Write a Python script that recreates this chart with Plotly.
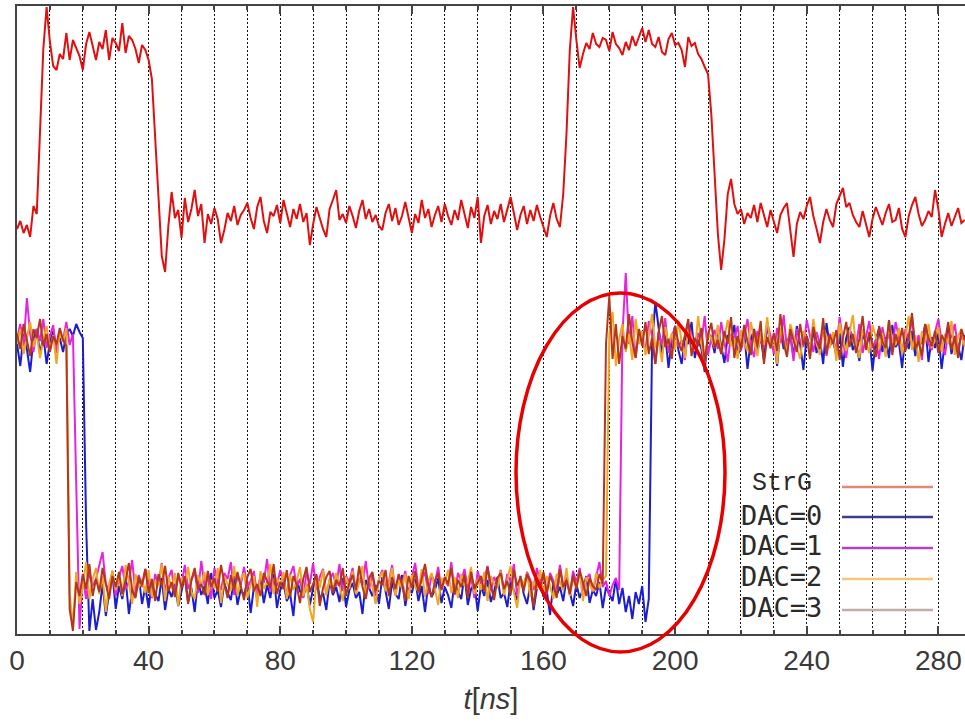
import plotly.graph_objects as go

# time axis in ns (1 ns sampling)
t_ns = list(range(289))

strg = [405, 413, 401, 409, 397, 428, 420,
        500, 585, 627, 592, 568,
        564, 580, 575, 601, 574, 594, 586, 578, 564, 590, 602, 588, 574, 592, 585, 604, 574, 596, 591, 583,
        611, 581, 598, 594, 585, 571, 589, 584, 574, 555,
        495, 430, 378, 362, 408, 442, 416, 424, 396,
        436, 412, 425, 444, 418, 430, 391, 420, 410, 426, 415, 391, 404, 421, 413, 428, 409, 419, 424, 431,
        416, 405, 427, 437, 413, 401, 422, 418, 429, 411, 434, 420, 407, 425, 415, 430, 412, 421, 389, 410,
        427, 416, 405, 397, 425, 434, 444, 414, 420, 411, 428, 418, 406, 423, 434, 415, 425, 412, 419, 408,
        404, 421, 430, 413, 426, 409, 418, 432, 415, 401, 420, 411, 434, 416, 425, 407, 419, 428, 412, 430,
        418, 409, 424, 414, 434, 420, 406, 427, 416, 437, 391, 418, 429, 410, 423, 415, 430, 412, 426, 437,
        421, 404, 419, 428, 410, 424, 413, 429, 417, 407, 397, 418, 431, 415, 407,
        440, 501, 584, 627, 594, 566,
        580, 591, 585, 601, 590, 587, 596, 594, 583, 602, 590, 586, 579, 592, 584, 598, 588, 597, 606, 592,
        604, 590, 587, 597, 582, 579, 595, 601, 589, 591, 584, 567, 597, 588, 591, 580, 575, 567,
        560, 520, 460, 400, 364, 395, 440, 455, 430, 420,
        425, 410, 421, 416, 429, 412, 431, 418, 407, 424, 413, 401, 419, 426, 431, 405, 377, 410, 422, 415,
        428, 437, 418, 405, 391, 412, 425, 414, 407, 430, 438, 446, 427, 431, 419, 412, 407, 423, 410, 397,
        415, 427, 418, 409, 421, 430, 412, 414, 426, 405, 397, 418, 429, 437, 420, 408, 414, 423, 417, 444,
        425, 397, 410, 421, 408, 417, 426, 411, 414]

dac0 = [290, 268, 300, 285, 262, 295, 305, 280, 298, 270, 292, 303, 287, 296, 282, 300, 305, 298, 310, 302, 296,
        110, 3, 35, 4, 22, 50, 18,
        42, 60, 25, 48, 35, 55, 20, 44, 38, 58, 30, 47, 26, 52, 40, 33, 56, 24, 45, 37,
        50, 28, 43, 57, 32, 46, 22, 54, 39, 48, 30, 61, 36, 44, 27, 51, 41, 34, 58, 29,
        45, 38, 53, 21, 47, 42, 56, 31, 49, 36, 60, 26, 44, 52, 33, 40, 18, 55, 43, 37,
        50, 29, 46, 58, 35, 41, 24, 53, 39, 47, 32, 56, 27, 44, 51, 36, 42, 20, 54, 45,
        38, 49, 30, 57, 43, 25, 52, 40, 35, 59, 28, 46, 41, 55, 33, 48, 22, 50, 37, 44,
        56, 31, 47, 39, 26, 53, 42, 35, 60, 29, 45, 50, 23, 48, 38, 54, 32, 43, 57, 36,
        41, 27, 52, 44, 34, 58, 40, 30, 49, 24, 46, 55, 37, 43, 19, 51, 39, 47, 33, 56,
        42, 28, 50, 36, 45, 58, 31, 44, 38, 52, 26, 47, 40, 33, 55, 30, 46, 22, 38, 15, 42, 30, 48, 12, 35,
        290, 332, 305,
        280, 300, 266, 295, 308, 284, 270, 298, 290, 312, 276, 294, 285, 262, 302, 296, 281, 306, 288, 271,
        299, 292, 309, 279, 286, 301, 265, 294, 305, 283, 297, 274, 310, 289, 296, 268, 303, 285, 292, 300,
        277, 308, 290, 264, 298, 286, 304, 281, 295, 270, 311, 288, 293, 279, 301, 267, 296, 307, 284, 291,
        273, 302, 289, 298, 263, 294, 306, 282, 297, 276, 309, 287, 292, 266, 300, 285, 303, 278, 295, 290,
        310, 272, 297, 286, 301, 265, 293, 305, 280, 296, 288, 274, 299]

dac1 = [295, 310, 288, 336, 300, 282, 305, 293, 315, 286, 298, 309, 281, 302, 294, 312, 289, 300,
        150, 5, 58, 35,
        62, 48, 55, 70, 82, 50, 44, 63, 38, 57, 68, 45, 52, 74, 40, 59, 47, 65, 53, 36,
        60, 49, 71, 43, 56, 64, 38, 58, 50, 69, 45, 54, 62, 41, 73, 48, 57, 35, 66, 51,
        44, 61, 55, 72, 39, 58, 49, 67, 46, 53, 63, 37, 60, 51, 75, 42, 56, 48, 64, 53,
        40, 59, 68, 47, 55, 36, 62, 50, 71, 44, 57, 65, 39, 54, 61, 48, 70, 43, 58, 52,
        66, 41, 56, 49, 73, 45, 60, 38, 55, 64, 47, 52, 69, 42, 58, 50, 63, 37, 57, 71,
        46, 54, 62, 40, 59, 51, 67, 44, 56, 48, 72, 39, 61, 53, 65, 45, 58, 36, 63, 50,
        55, 68, 43, 57, 49, 64, 41, 60, 52, 70, 38, 56, 47, 62, 54, 44, 66, 50, 58, 40,
        61, 53, 45, 69, 48, 57, 39, 63, 51, 66, 44, 55, 60, 42, 58, 72, 47, 53, 38, 49, 56, 44,
        300, 361, 290, 318,
        276, 305, 292, 284, 313, 298, 270, 302, 289, 316, 281, 297, 306, 287, 294, 274, 310, 299, 283, 301,
        292, 318, 279, 296, 304, 285, 312, 290, 272, 300, 295, 308, 283, 297, 315, 288, 277, 303, 294, 286,
        311, 298, 280, 306, 291, 319, 284, 299, 273, 305, 293, 287, 314, 296, 282, 302, 290, 308, 278, 300,
        295, 285, 317, 292, 276, 304, 298, 288, 310, 281, 299, 313, 286, 294, 275, 307, 291, 300, 283, 312,
        297, 280, 305, 293, 316, 287, 299, 274, 308, 290, 284, 302, 315, 292, 279, 301, 296, 310, 285, 298,
        291]

dac2 = [290, 305, 280, 298, 312, 287, 300, 276, 295, 308, 284, 299, 270, 303, 292, 306,
        40, 8, 62, 30,
        48, 72, 35, 55, 66, 40, 58, 22, 50, 63, 44, 57, 38, 69, 52, 30, 60, 46, 55, 41,
        64, 37, 53, 48, 70, 33, 58, 45, 61, 28, 56, 50, 67, 42, 35, 59, 48, 62, 39, 54,
        46, 66, 31, 57, 50, 43, 68, 38, 55, 61, 36, 49, 58, 27, 63, 45, 52, 70, 40, 56,
        48, 62, 35, 59, 44, 53, 67, 38, 50, 25, 12, 58, 46, 64, 39, 55, 42, 61, 49, 33,
        57, 45, 63, 40, 52, 68, 36, 58, 47, 30, 55, 62, 43, 50, 66, 38, 54, 45, 60, 35,
        59, 48, 42, 65, 37, 53, 61, 46, 29, 56, 50, 64, 41, 57, 36, 60, 48, 52, 67, 40,
        55, 44, 62, 33, 58, 50, 46, 63, 39, 54, 68, 42, 26, 57, 49, 61, 37, 53, 45, 64,
        40, 58, 48, 35, 60, 52, 44, 66, 38, 55, 47, 62, 33, 57, 50, 43, 61, 46, 54, 58,
        300, 322, 268,
        295, 310, 282, 300, 274, 315, 290, 303, 279, 298, 320, 286, 294, 272, 307, 289, 301, 284, 313, 292,
        276, 305, 297, 283, 318, 290, 271, 302, 295, 286, 309, 280, 299, 314, 288, 296, 275, 304, 291, 283,
        312, 294, 278, 301, 289, 317, 285, 297, 270, 306, 293, 282, 310, 299, 287, 275, 303, 296, 284, 315,
        291, 279, 308, 298, 286, 302, 273, 311, 295, 283, 300, 319, 288, 276, 305, 292, 281, 309, 297, 285,
        301, 277, 314, 293, 289, 306, 280, 297, 318, 284, 299, 272, 303, 291, 310, 286, 295, 307, 282, 300,
        290, 313, 279, 298, 305, 287]

dac3 = [300, 285, 310, 292, 278, 305, 296, 315, 288, 300, 282, 298, 290, 306, 294, 288,
        25, 3, 52, 38,
        60, 45, 70, 38, 55, 42, 66, 50, 35, 58, 47, 62, 40, 53, 71, 44, 36, 57, 49, 65,
        41, 55, 33, 60, 48, 68, 43, 52, 37, 61, 46, 58, 30, 54, 66, 45, 50, 39, 63, 47,
        56, 42, 69, 51, 36, 59, 44, 62, 48, 34, 57, 65, 43, 50, 38, 61, 53, 46, 70, 40,
        52, 45, 64, 37, 58, 49, 31, 55, 67, 42, 50, 60, 28, 46, 57, 63, 41, 54, 48, 66,
        39, 51, 59, 44, 68, 47, 35, 56, 62, 43, 53, 49, 64, 38, 57, 45, 60, 50, 33, 58,
        46, 63, 41, 55, 70, 48, 37, 52, 61, 44, 57, 50, 66, 40, 54, 47, 59, 36, 62, 45,
        51, 58, 42, 67, 49, 34, 56, 61, 45, 53, 39, 64, 48, 57, 43, 60, 52, 27, 55, 46,
        62, 41, 58, 50, 36, 65, 47, 54, 40, 59, 45, 63, 52, 38, 56, 48, 44, 60, 50,
        290, 338, 275,
        310, 270, 298, 285, 320, 292, 276, 305, 288, 312, 280, 296, 270, 302, 318, 287, 295, 275, 308, 291,
        283, 300, 315, 278, 296, 288, 306, 272, 299, 311, 286, 294, 280, 303, 290, 317, 276, 298, 285, 309,
        292, 279, 304, 288, 313, 270, 297, 286, 301, 283, 320, 291, 277, 305, 294, 282, 310, 289, 298, 275,
        307, 293, 285, 316, 280, 299, 290, 304, 274, 296, 312, 287, 300, 281, 295, 318, 284, 302, 290, 277,
        308, 292, 286, 314, 279, 300, 289, 306, 283, 297, 321, 285, 293, 278, 310, 296, 288, 303, 281, 299,
        292, 312, 284, 298, 276, 305, 294]

legend_names = ["StrG", "DAC=0", "DAC=1", "DAC=2", "DAC=3"]
x_ticks = [0, 40, 80, 120, 160, 200, 240, 280]

line_colors = {"StrG": "#e01010", "DAC=0": "#1c1cd0", "DAC=1": "#e424e0",
               "DAC=2": "#f2a51e", "DAC=3": "#b4361c"}
key_colors = {"StrG": "#e0887a", "DAC=0": "#3c3c92", "DAC=1": "#b440c4",
              "DAC=2": "#f2c878", "DAC=3": "#c2acaa"}

fig = go.Figure()
for name, ys in [("DAC=0", dac0), ("DAC=1", dac1), ("DAC=2", dac2), ("DAC=3", dac3), ("StrG", strg)]:
    fig.add_trace(go.Scatter(x=t_ns[:len(ys)], y=ys, mode="lines", name=name,
                             line=dict(color=line_colors[name], width=2.0),
                             showlegend=False))

L, R, T, B = 17, 965, 6, 634
W = R - L
H = B - T

def px_x(p):
    return (p - L) / W

def px_y(p):
    return (B - p) / H

shapes = []
# white key box hiding the grid
shapes.append(dict(type="rect", xref="paper", yref="paper",
                   x0=px_x(832), x1=1.0, y0=px_y(627), y1=px_y(470),
                   fillcolor="white", line=dict(width=0), layer="between"))
annotations = []
row_text_y = [484, 515, 545, 576, 607]
row_line_y = [487, 517, 548, 579, 610]
for i, name in enumerate(legend_names):
    shapes.append(dict(type="line", xref="paper", yref="paper",
                       x0=px_x(842), x1=px_x(933), y0=px_y(row_line_y[i]), y1=px_y(row_line_y[i]),
                       line=dict(color=key_colors[name], width=2.5)))
    if name == "StrG":
        fnt = dict(family="Liberation Mono", size=25, color="#2a2a2a")
        xr = 814
    else:
        fnt = dict(family="DejaVu Sans Mono", size=27, color="#2a2a2a")
        xr = 824
    annotations.append(dict(text=name, xref="paper", yref="paper", x=px_x(xr), y=px_y(row_text_y[i]),
                            xanchor="right", yanchor="middle", showarrow=False, font=fnt))

# red ellipse highlight
shapes.append(dict(type="circle", xref="paper", yref="paper",
                   x0=px_x(516), x1=px_x(725), y0=px_y(652), y1=px_y(293),
                   line=dict(color="#e80000", width=3.5), layer="above"))

fig.update_layout(
    width=965, height=726,
    margin=dict(l=L, r=0, t=T, b=726 - B, autoexpand=False),
    paper_bgcolor="white", plot_bgcolor="white",
    shapes=shapes, annotations=annotations,
    showlegend=False,
    xaxis=dict(range=[0, 288.1], tickmode="array", tickvals=x_ticks,
               ticktext=[str(v) for v in x_ticks],
               ticks="inside", ticklen=8, tickwidth=1.5, tickcolor="#444",
               showline=True, linecolor="#444", linewidth=2, mirror="ticks",
               showgrid=True, gridcolor="#111", gridwidth=1, griddash="2px,2px",
               minor=dict(dtick=10, tick0=0, ticks="inside", ticklen=4, tickcolor="#444",
                          showgrid=True, gridcolor="#111", gridwidth=1, griddash="2px,2px"),
               zeroline=False,
               tickfont=dict(family="Liberation Sans", size=28, color="#3a3a3a"),
               title=dict(text="<i>t</i>[<i>ns</i>]", standoff=14,
                          font=dict(family="Liberation Sans", size=29, color="#3a3a3a"))),
    yaxis=dict(range=[0, 628], showline=True, linecolor="#444", linewidth=2, mirror=False,
               showticklabels=False, ticks="", showgrid=False, zeroline=False),
)

fig.write_html("out.html")
